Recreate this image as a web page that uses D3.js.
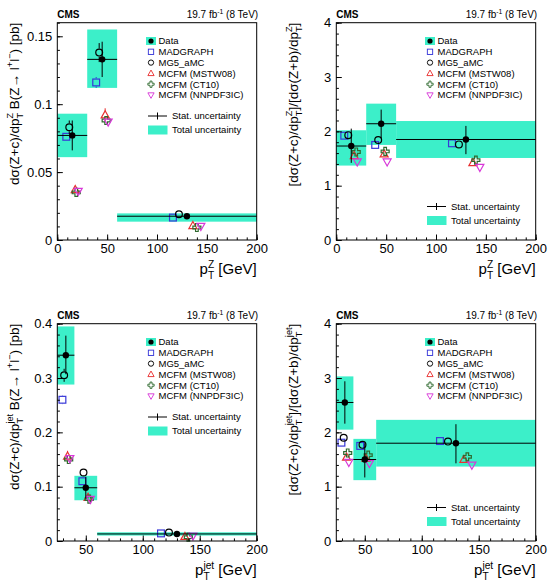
<!DOCTYPE html>
<html lang="en">
<head>
<meta charset="utf-8">
<title>Z+c differential cross sections</title>
<script src="https://d3js.org/d3.v7.min.js"></script>
<style>
    body { margin: 0; background: #ffffff; }
    svg { display: block; font-family: "Liberation Sans", Arial, Helvetica, sans-serif; }
    .tick text { font-size: 13px; fill: #000; }
    .tick line { stroke: #000; }
    .legend text { font-size: 9.5px; fill: #000; }
</style>
</head>
<body>
<svg id="chart" width="558" height="588"></svg>
<script>

// ---- data ----
const models = ["MADGRAPH", "MG5_aMC", "MCFM (MSTW08)", "MCFM (CT10)", "MCFM (NNPDF3IC)"];
const modelColors = ["#3838d8", "#000000", "#e83030", "#2f6a2f", "#d838d8"];
const modelShapes = ["square", "circle", "up", "cross", "down"];

const zBins = [[0, 30], [30, 60], [60, 200]];
const jetBins = [[25, 40], [40, 60], [60, 200]];

// top left: dsigma(Z+c)/dpT^Z
const xsZDataX = [15, 45, 130];
const xsZData = [0.077, 0.133, 0.0175];
const xsZStatLo = [0.066, 0.120, 0.0165];
const xsZStatHi = [0.088, 0.146, 0.0185];
const xsZTotLo = [0.061, 0.112, 0.0135];
const xsZTotHi = [0.093, 0.155, 0.0196];
const xsZModelX = [[9, 39, 116], [12, 42, 122], [18, 48, 136], [19, 49, 140], [21, 51, 144]];
const xsZModel = [[0.076, 0.116, 0.0165], [0.083, 0.138, 0.019], [0.037, 0.092, 0.0105], [0.035, 0.088, 0.0092], [0.036, 0.087, 0.0102]];
const xsZModelErr = [[0.002, 0.004, 0.0008], [0.005, 0.007, 0.001], [0.003, 0.005, 0.001], [0.002, 0.003, 0.001], [0.002, 0.003, 0.0008]];

// top right: ratio Z+c / Z+b vs pT^Z
const rZDataX = [15, 45, 130];
const rZData = [1.73, 2.14, 1.85];
const rZStatLo = [1.42, 1.87, 1.58];
const rZStatHi = [2.05, 2.40, 2.10];
const rZTotLo = [1.37, 1.75, 1.51];
const rZTotHi = [2.02, 2.51, 2.19];
const rZModelX = [[8, 39, 116], [12, 42, 123], [18, 48, 137], [20, 49, 140], [21, 51, 144]];
const rZModel = [[1.92, 1.75, 1.78], [1.93, 1.84, 1.76], [1.55, 1.58, 1.42], [1.62, 1.63, 1.47], [1.44, 1.44, 1.34]];
const rZModelErr = [[0.04, 0.04, 0.04], [0.05, 0.04, 0.04], [0.05, 0.05, 0.04], [0.04, 0.04, 0.04], [0.03, 0.03, 0.03]];

// bottom left: dsigma(Z+c)/dpT^jet
const xsJDataX = [32.5, 50, 130];
const xsJData = [0.342, 0.098, 0.013];
const xsJStatLo = [0.307, 0.078, 0.012];
const xsJStatHi = [0.378, 0.118, 0.014];
const xsJTotLo = [0.288, 0.075, 0.010];
const xsJTotHi = [0.395, 0.120, 0.016];
const xsJModelX = [[29.5, 47, 116], [31, 48, 123], [34, 52, 137], [35, 53, 140], [36, 54, 144]];
const xsJModel = [[0.26, 0.11, 0.014], [0.305, 0.126, 0.0155], [0.156, 0.080, 0.008], [0.150, 0.077, 0.007], [0.152, 0.077, 0.0095]];
const xsJModelErr = [[0.008, 0.004, 0.001], [0.012, 0.004, 0.001], [0.010, 0.004, 0.001], [0.006, 0.003, 0.001], [0.007, 0.003, 0.001]];

// bottom right: ratio Z+c / Z+b vs pT^jet
const rJDataX = [32.5, 50, 130];
const rJData = [2.55, 1.50, 1.80];
const rJStatLo = [2.16, 1.17, 1.43];
const rJStatHi = [2.94, 1.80, 2.15];
const rJTotLo = [2.05, 1.12, 1.37];
const rJTotHi = [3.03, 1.88, 2.23];
const rJModelX = [[29.5, 46, 116], [31.5, 48, 123], [34, 51, 137], [35, 53, 140], [36, 54, 144]];
const rJModel = [[1.81, 1.75, 1.84], [1.90, 1.77, 1.83], [1.54, 1.52, 1.50], [1.62, 1.58, 1.55], [1.45, 1.43, 1.40]];
const rJModelErr = [[0.05, 0.05, 0.04], [0.05, 0.05, 0.04], [0.05, 0.04, 0.04], [0.04, 0.04, 0.04], [0.03, 0.03, 0.03]];

// tick labels
const zXTicks = [0, 50, 100, 150, 200];
const jetXTicks = [50, 100, 150, 200];
const xsZYTicks = [0, 0.05, 0.1, 0.15];
const xsJYTicks = [0, 0.1, 0.2, 0.3, 0.4];
const ratioYTicks = [0, 1, 2, 3, 4];

// axis titles, [text, "" | "sup" | "sub"]
const xTitleZ = [["p", ""], ["Z", "sup"], ["T", "sub"], [" [GeV]", ""]];
const xTitleJet = [["p", ""], ["jet", "sup"], ["T", "sub"], [" [GeV]", ""]];
const yTitleXsZ = [["dσ(Z+c)/dp", ""], ["Z", "sup"], ["T", "sub"], [" B(Z→ l", ""], ["+", "sup"], ["l", ""], ["−", "sup"], [") [pb]", ""]];
const yTitleRZ = [["[dσ(Z+c)/dp", ""], ["Z", "sup"], ["T", "sub"], ["]/[dσ(Z+b)/dp", ""], ["Z", "sup"], ["T", "sub"], ["]", ""]];
const yTitleXsJ = [["dσ(Z+c)/dp", ""], ["jet", "sup"], ["T", "sub"], [" B(Z→ l", ""], ["+", "sup"], ["l", ""], ["−", "sup"], [") [pb]", ""]];
const yTitleRJ = [["[dσ(Z+c)/dp", ""], ["jet", "sup"], ["T", "sub"], ["]/[dσ(Z+b)/dp", ""], ["jet", "sup"], ["T", "sub"], ["]", ""]];

// ---- layout ----
const svg = d3.select("#chart");
const frame = {left: 57.3, right: 256.7, top: 22.7, bottom: 240};
const totColor = "#3cefc9";

const panels = [
    {ox: 0, oy: 0, xDom: [0, 200], yDom: [0, 0.16], xTicks: zXTicks, yTicks: xsZYTicks, yMinor: 0.01,
     bins: zBins, dataX: xsZDataX, data: xsZData, statLo: xsZStatLo, statHi: xsZStatHi, totLo: xsZTotLo, totHi: xsZTotHi,
     modelX: xsZModelX, model: xsZModel, modelErr: xsZModelErr, xTitle: xTitleZ, yTitle: yTitleXsZ, legLow: 116},
    {ox: 279, oy: 0, xDom: [0, 200], yDom: [0, 4], xTicks: zXTicks, yTicks: ratioYTicks, yMinor: 0.2,
     bins: zBins, dataX: rZDataX, data: rZData, statLo: rZStatLo, statHi: rZStatHi, totLo: rZTotLo, totHi: rZTotHi,
     modelX: rZModelX, model: rZModel, modelErr: rZModelErr, xTitle: xTitleZ, yTitle: yTitleRZ, legLow: 206.5},
    {ox: 0, oy: 301, xDom: [25, 200], yDom: [0, 0.4], xTicks: jetXTicks, yTicks: xsJYTicks, yMinor: 0.02,
     bins: jetBins, dataX: xsJDataX, data: xsJData, statLo: xsJStatLo, statHi: xsJStatHi, totLo: xsJTotLo, totHi: xsJTotHi,
     modelX: xsJModelX, model: xsJModel, modelErr: xsJModelErr, xTitle: xTitleJet, yTitle: yTitleXsJ, legLow: 116},
    {ox: 279, oy: 301, xDom: [25, 200], yDom: [0, 4], xTicks: jetXTicks, yTicks: ratioYTicks, yMinor: 0.2,
     bins: jetBins, dataX: rJDataX, data: rJData, statLo: rJStatLo, statHi: rJStatHi, totLo: rJTotLo, totHi: rJTotHi,
     modelX: rJModelX, model: rJModel, modelErr: rJModelErr, xTitle: xTitleJet, yTitle: yTitleRJ, legLow: 206.5}
];

// text with stacked super/subscripts
function richText(sel, parts, size) {
    let shift = 0, supLen = 0, pending = 0;
    parts.forEach(([t, kind]) => {
        const ts = sel.append("tspan").text(t);
        let target = 0;
        if (kind === "sup") {
            target = -0.42 * size;
            ts.attr("font-size", 0.68 * size).attr("dx", pending);
            pending = 0;
        } else if (kind === "sub") {
            target = 0.3 * size;
            ts.attr("font-size", 0.68 * size).attr("dx", -supLen);
        } else {
            ts.attr("dx", pending);
            pending = 0;
        }
        ts.attr("dy", target - shift);
        shift = target;
        const len = ts.node().getComputedTextLength();
        if (kind === "sup") supLen = len;
        if (kind === "sub") pending = Math.max(0, supLen - len);
    });
}

function marker(g, shape, x, y, color) {
    const s = 3.4;
    let el;
    if (shape === "square") {
        el = g.append("rect").attr("x", x - s).attr("y", y - s).attr("width", 2 * s).attr("height", 2 * s);
    } else if (shape === "circle") {
        el = g.append("circle").attr("cx", x).attr("cy", y).attr("r", s);
    } else if (shape === "up") {
        el = g.append("path").attr("d", `M${x},${y - 4.3}L${x + 4},${y + 2.8}L${x - 4},${y + 2.8}Z`);
    } else if (shape === "down") {
        el = g.append("path").attr("d", `M${x},${y + 4.3}L${x + 4},${y - 2.8}L${x - 4},${y - 2.8}Z`);
    } else {
        const a = 1.3, b = 4;
        el = g.append("path").attr("d",
            `M${x - a},${y - b}H${x + a}V${y - a}H${x + b}V${y + a}H${x + a}V${y + b}H${x - a}V${y + a}H${x - b}V${y - a}H${x - a}Z`);
    }
    el.attr("fill", "none").attr("stroke", color).attr("stroke-width", 1.2);
}

panels.forEach(p => {
    const g = svg.append("g").attr("transform", `translate(${p.ox},${p.oy})`);
    const x = d3.scaleLinear().domain(p.xDom).range([frame.left, frame.right]);
    const y = d3.scaleLinear().domain(p.yDom).range([frame.bottom, frame.top]);

    // total uncertainty boxes
    g.selectAll("rect.tot")
        .data(p.bins)
        .enter()
        .append("rect")
        .attr("class", "tot")
        .attr("x", d => x(d[0]))
        .attr("width", d => x(d[1]) - x(d[0]))
        .attr("y", (d, i) => y(p.totHi[i]))
        .attr("height", (d, i) => y(p.totLo[i]) - y(p.totHi[i]))
        .attr("fill", totColor);

    // model predictions
    models.forEach((m, k) => {
        p.model[k].forEach((v, i) => {
            const cx = x(p.modelX[k][i]), cy = y(v);
            const up = y(v + p.modelErr[k][i]), dn = y(v - p.modelErr[k][i]);
            if (cy - up > 4) g.append("line").attr("x1", cx).attr("x2", cx).attr("y1", up).attr("y2", cy - 4)
                .attr("stroke", modelColors[k]).attr("stroke-width", 1);
            if (dn - cy > 4) g.append("line").attr("x1", cx).attr("x2", cx).attr("y1", cy + 4).attr("y2", dn)
                .attr("stroke", modelColors[k]).attr("stroke-width", 1);
            marker(g, modelShapes[k], cx, cy, modelColors[k]);
        });
    });

    // data with stat. uncertainty
    p.data.forEach((v, i) => {
        g.append("line").attr("x1", x(p.bins[i][0])).attr("x2", x(p.bins[i][1]))
            .attr("y1", y(v)).attr("y2", y(v)).attr("stroke", "#000").attr("stroke-width", 1);
        g.append("line").attr("x1", x(p.dataX[i])).attr("x2", x(p.dataX[i]))
            .attr("y1", y(p.statHi[i])).attr("y2", y(p.statLo[i])).attr("stroke", "#000").attr("stroke-width", 1);
        g.append("circle").attr("cx", x(p.dataX[i])).attr("cy", y(v)).attr("r", 3.2).attr("fill", "#000");
    });

    // axes, ticks inside the frame
    const minorX = d3.range(Math.ceil(p.xDom[0] / 10) * 10, p.xDom[1] + 0.1, 10);
    const minorY = d3.range(0, p.yDom[1] + 1e-9, p.yMinor);
    g.append("g").attr("transform", `translate(0,${frame.bottom})`)
        .call(d3.axisBottom(x).tickValues(minorX).tickSize(-2.6).tickFormat(""));
    g.append("g").attr("transform", `translate(0,${frame.bottom})`)
        .call(d3.axisBottom(x).tickValues(p.xTicks).tickSize(-5.5).tickPadding(4).tickFormat(d => d));
    g.append("g").attr("transform", `translate(${frame.left},0)`)
        .call(d3.axisLeft(y).tickValues(minorY).tickSize(-2.6).tickFormat(""));
    g.append("g").attr("transform", `translate(${frame.left},0)`)
        .call(d3.axisLeft(y).tickValues(p.yTicks).tickSize(-5.5).tickPadding(5).tickFormat(d => String(d)));
    g.selectAll(".domain").remove();

    g.append("rect")
        .attr("x", frame.left).attr("y", frame.top)
        .attr("width", frame.right - frame.left).attr("height", frame.bottom - frame.top)
        .attr("fill", "none").attr("stroke", "#000").attr("stroke-width", 1);

    // header texts
    g.append("text").attr("x", frame.left).attr("y", 18)
        .attr("font-size", 10).attr("font-weight", "bold").text("CMS");
    const lumi = g.append("text").attr("x", frame.right + 1.5).attr("y", 18)
        .attr("font-size", 10).attr("text-anchor", "end");
    richText(lumi, [["19.7 fb", ""], ["-1", "sup"], [" (8 TeV)", ""]], 10);

    // axis titles
    const xt = g.append("text").attr("x", frame.right).attr("y", 274)
        .attr("font-size", 15).attr("text-anchor", "end");
    richText(xt, p.xTitle, 15);
    const yt = g.append("text").attr("transform", `translate(19,${frame.top}) rotate(-90)`)
        .attr("font-size", 13.5).attr("text-anchor", "end");
    richText(yt, p.yTitle, 13.5);

    // legend
    const leg = g.append("g").attr("class", "legend");
    const rowY = i => 41 + i * 10.8;
    leg.append("rect").attr("x", 146).attr("y", rowY(0) - 4).attr("width", 10).attr("height", 8).attr("fill", totColor);
    leg.append("circle").attr("cx", 151).attr("cy", rowY(0)).attr("r", 2.6).attr("fill", "#000");
    leg.append("text").attr("x", 158.5).attr("y", rowY(0) + 3.3).text("Data");
    models.forEach((m, k) => {
        const ry = rowY(k + 1);
        const ms = g.append("g").attr("transform", `translate(151,${ry}) scale(0.78) translate(-151,${-ry})`);
        marker(ms, modelShapes[k], 151, ry, modelColors[k]);
        leg.append("text").attr("x", 158.5).attr("y", ry + 3.3).text(m);
    });
    leg.append("line").attr("x1", 148).attr("x2", 167).attr("y1", p.legLow).attr("y2", p.legLow)
        .attr("stroke", "#000").attr("stroke-width", 1);
    leg.append("line").attr("x1", 157.5).attr("x2", 157.5).attr("y1", p.legLow - 3.5).attr("y2", p.legLow + 3.5)
        .attr("stroke", "#000").attr("stroke-width", 1);
    leg.append("text").attr("x", 172).attr("y", p.legLow + 3.3).text("Stat. uncertainty");
    leg.append("rect").attr("x", 148).attr("y", p.legLow + 9.5).attr("width", 19.5).attr("height", 9).attr("fill", totColor);
    leg.append("text").attr("x", 172).attr("y", p.legLow + 17.3).text("Total uncertainty");
});

</script>
</body>
</html>
